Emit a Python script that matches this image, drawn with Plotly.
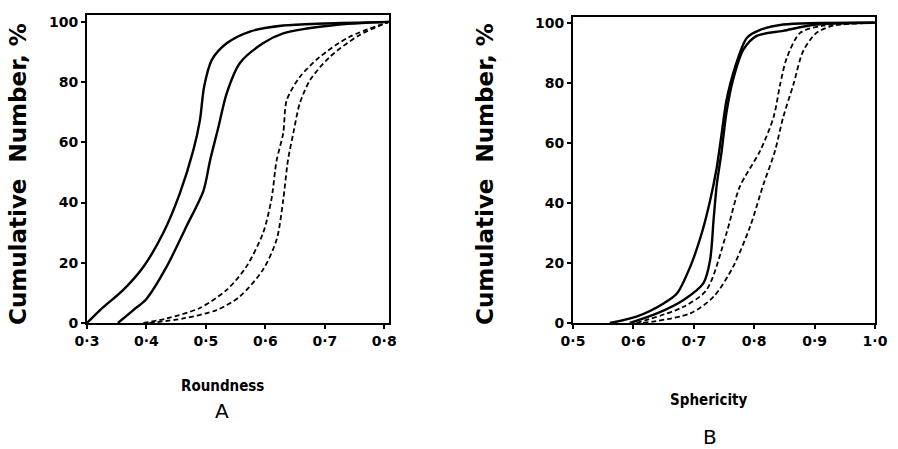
import plotly.graph_objects as go

# Panel A: Roundness
rA_s1_x = [0.300, 0.322, 0.361, 0.395, 0.428, 0.456, 0.479, 0.490, 0.497, 0.510, 0.535, 0.574, 0.630, 0.700, 0.808]
rA_s1_y = [0, 4.3, 11, 18.7, 29.8, 43, 57.5, 67.4, 78.5, 87.4, 92.9, 96.8, 98.8, 99.5, 100]
rA_s2_x = [0.352, 0.378, 0.400, 0.434, 0.467, 0.496, 0.507, 0.521, 0.535, 0.557, 0.596, 0.630, 0.714, 0.808]
rA_s2_y = [0, 4.3, 8, 18.7, 32, 44, 54, 65, 76.3, 86.3, 92.9, 96.2, 98.9, 100]
rA_d1_x = [0.395, 0.434, 0.490, 0.535, 0.568, 0.596, 0.610, 0.619, 0.630, 0.636, 0.658, 0.691, 0.741, 0.808]
rA_d1_y = [0, 1.5, 5, 11, 18.7, 29.8, 40.8, 54, 63, 74, 81.7, 88.3, 95, 100]
rA_d2_x = [0.405, 0.462, 0.518, 0.557, 0.596, 0.619, 0.630, 0.638, 0.647, 0.658, 0.675, 0.708, 0.758, 0.808]
rA_d2_y = [0, 1.5, 4.3, 8.8, 17.7, 27.7, 40.8, 54, 63, 73, 80.6, 88.3, 95.6, 100]

# Panel B: Sphericity
sB_s1_x = [0.561, 0.605, 0.650, 0.672, 0.694, 0.713, 0.727, 0.738, 0.746, 0.754, 0.768, 0.788, 0.810, 0.848, 1.0]
sB_s1_y = [0, 2.1, 6.5, 9.8, 18.7, 29.8, 40.8, 51.8, 62.9, 74, 85, 95, 97.6, 99.4, 100]
sB_s2_x = [0.594, 0.639, 0.683, 0.716, 0.727, 0.733, 0.738, 0.746, 0.754, 0.765, 0.782, 0.804, 0.848, 0.903, 1.0]
sB_s2_y = [0, 3.2, 7.7, 13.3, 21, 35, 46, 57, 70, 81, 91, 95.6, 97.3, 99.4, 100]
sB_d1_x = [0.605, 0.683, 0.721, 0.754, 0.776, 0.810, 0.832, 0.843, 0.854, 0.876, 0.914, 1.0]
sB_d1_y = [0, 5.4, 11, 29.8, 45.3, 57.4, 68.5, 79.5, 88.3, 96.6, 99, 100]
sB_d2_x = [0.616, 0.694, 0.733, 0.765, 0.793, 0.815, 0.834, 0.848, 0.865, 0.881, 0.903, 0.931, 1.0]
sB_d2_y = [0, 3.2, 8.8, 18.7, 32, 46, 57, 68.5, 79.5, 90.5, 96.6, 99, 100]

xA_ticks = [0.3, 0.4, 0.5, 0.6, 0.7, 0.8]
xA_labels = ["0·3", "0·4", "0·5", "0·6", "0·7", "0·8"]
xB_ticks = [0.5, 0.6, 0.7, 0.8, 0.9, 1.0]
xB_labels = ["0·5", "0·6", "0·7", "0·8", "0·9", "1·0"]
y_ticks = [0, 20, 40, 60, 80, 100]
y_labels = ["0", "20", "40", "60", "80", "100"]

FONT = "DejaVu Sans"
W, H = 898, 449

def fx(px):
    return px / W

def fy(py):
    return 1 - py / H

fig = go.Figure()

def add(x, y, dash, w, xa, ya):
    fig.add_trace(go.Scatter(x=x, y=y, mode="lines", xaxis=xa, yaxis=ya,
                             line=dict(color="black", width=w, dash=dash, shape="spline", smoothing=0.8),
                             showlegend=False, hoverinfo="skip"))

add(rA_s1_x, rA_s1_y, "solid", 2.4, "x", "y")
add(rA_s2_x, rA_s2_y, "solid", 2.4, "x", "y")
add(rA_d1_x, rA_d1_y, "5px,3px", 1.8, "x", "y")
add(rA_d2_x, rA_d2_y, "5px,3px", 1.8, "x", "y")
add(sB_s1_x, sB_s1_y, "solid", 2.4, "x2", "y2")
add(sB_s2_x, sB_s2_y, "solid", 2.4, "x2", "y2")
add(sB_d1_x, sB_d1_y, "5px,3px", 1.8, "x2", "y2")
add(sB_d2_x, sB_d2_y, "5px,3px", 1.8, "x2", "y2")

tickfont = dict(family=FONT, size=14, color="black", weight="bold")
axcommon = dict(showgrid=False, zeroline=False, showline=True, linecolor="black", linewidth=2,
                mirror=True, tickcolor="black", tickfont=tickfont, automargin=False)

fig.update_layout(
    template="none",
    width=W, height=H, margin=dict(l=0, r=0, t=0, b=0),
    paper_bgcolor="white", plot_bgcolor="white",
    xaxis=dict(domain=[fx(87), fx(389)], range=[0.3, 0.808], tickvals=xA_ticks, ticktext=xA_labels,
               ticks="outside", ticklen=4, tickwidth=2, anchor="y", **axcommon),
    yaxis=dict(domain=[fy(323), fy(15)], range=[0, 102.3], tickvals=y_ticks, ticktext=y_labels,
               ticks="outside", ticklen=4, tickwidth=2, anchor="x", **axcommon),
    xaxis2=dict(domain=[fx(573), fx(875)], range=[0.5, 1.0], tickvals=xB_ticks, ticktext=xB_labels,
                ticks="outside", ticklen=4, tickwidth=2, anchor="y2", **axcommon),
    yaxis2=dict(domain=[fy(323), fy(17)], range=[0, 101.9], tickvals=y_ticks, ticktext=y_labels,
                ticks="outside", ticklen=4, tickwidth=2, anchor="x2", **axcommon),
)

def ann(text, px, py, size, angle=0, family=FONT):
    fig.add_annotation(text=text, x=fx(px), y=fy(py), xref="paper", yref="paper",
                       showarrow=False, textangle=angle, xanchor="center", yanchor="middle",
                       font=dict(family=family, size=size, color="black"))

ann("<b>Cumulative  Number, %</b>", 18, 174, 23, -90)
ann("<b>Cumulative  Number, %</b>", 485, 174, 23, -90)
ann("<b>Roundness</b>", 222, 386, 15, family="DejaVu Sans Condensed")
ann("A", 222, 411, 20)
ann("<b>Sphericity</b>", 708, 400, 15, family="DejaVu Sans Condensed")
ann("B", 710, 437, 20)

fig.write_html("out.html", config={"displayModeBar": False},
               post_script="document.body.style.margin='0';document.body.style.overflow='hidden';")
